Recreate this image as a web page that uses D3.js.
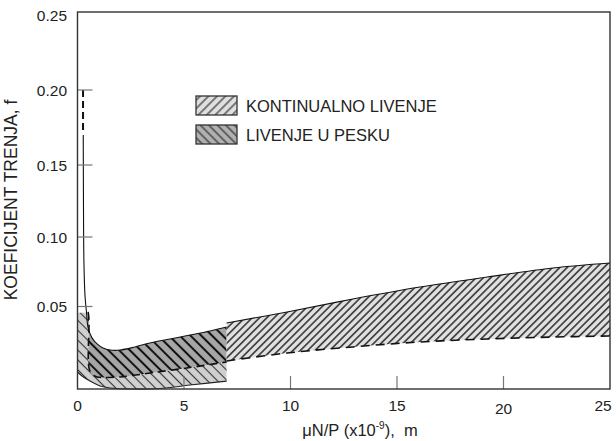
<!DOCTYPE html>
<html>
<head>
<meta charset="utf-8">
<script src="https://cdn.jsdelivr.net/npm/d3@7"></script>
<style>
  body { margin: 0; background: #fff; }
  text { font-family: "Liberation Sans", Arial, sans-serif; fill: #222; }
</style>
</head>
<body>
<div id="chart"></div>
<script>
// tick values
var xTicks = [0, 5, 10, 15, 20, 25];
var yTicks = [0.05, 0.10, 0.15, 0.20, 0.25];

// continuous casting band (x = uN/P, f)
var contUpper = [[7.0, 0.0400], [9.84, 0.0467], [12.93, 0.0554], [16.08, 0.0640], [19.23, 0.0712], [22.32, 0.0777], [25, 0.0813]];
var contLower = [[7.0, 0.0170], [9.84, 0.0218], [12.93, 0.0255], [16.08, 0.0285], [19.23, 0.0303], [22.32, 0.0315], [25, 0.0321]];

// sand casting band
var steepPart = [[0.27, 0.170], [0.28, 0.126], [0.30, 0.0835], [0.35, 0.0583], [0.42, 0.0467]];
var steepDashed = [[0.26, 0.200], [0.26, 0.171]];
var sandUpper = [[0.49, 0.0450], [0.50, 0.0370], [0.68, 0.0310], [0.92, 0.0273], [1.2, 0.0248], [1.53, 0.0236], [2.0, 0.0236], [2.7, 0.0255], [3.4, 0.0279], [4.34, 0.0303], [5.28, 0.0327], [6.22, 0.0352], [7.0, 0.0376]];
var sandLower = [[0.50, 0.0467], [0.54, 0.0418], [0.54, 0.0127], [0.68, 0.0091], [0.92, 0.0073], [1.2, 0.0070], [2.0, 0.0073], [3.4, 0.0097], [5.28, 0.0130], [7.0, 0.0164]];

// lower left region under the sand band
var leftTop = [[0, 0.046], [0.49, 0.046]];
var leftBottom = [[0, 0.0103], [0.21, 0.0079], [0.59, 0.0048], [1.06, 0.0018], [1.53, 0.0006], [2.46, 0.0], [3.87, 0.0003], [5.28, 0.0024], [7.0, 0.0048]];

var legendNames = ["KONTINUALNO LIVENJE", "LIVENJE U PESKU"];

var W = 616, H = 441;
var svg = d3.select("#chart").append("svg").attr("width", W).attr("height", H);

var plotL = 77.5, plotR = 610, plotT = 12, plotB = 389;
var x = d3.scaleLinear().domain([0, 25]).range([plotL, plotR]);
// the printed axis is not quite uniform, so calibrate at each tick
var y = d3.scaleLinear().domain([0, 0.05, 0.10, 0.15, 0.20, 0.25]).range([plotB, 306.5, 237, 165, 90, plotT]);

// hatch patterns
var defs = svg.append("defs");
function hatch(id, gap, angle, bg, lw, col) {
    var p = defs.append("pattern").attr("id", id).attr("patternUnits", "userSpaceOnUse")
        .attr("width", gap).attr("height", gap).attr("patternTransform", "rotate(" + angle + ")");
    p.append("rect").attr("width", gap).attr("height", gap).attr("fill", bg);
    p.append("line").attr("x1", gap / 2).attr("x2", gap / 2).attr("y1", 0).attr("y2", gap)
        .attr("stroke", col).attr("stroke-width", lw);
}
hatch("hCont", 5.2, 45, "#e0e0e0", 1.3, "#111");
hatch("hSand", 7.6, -45, "#a6a6a6", 2.0, "#111");
hatch("hLeft", 7.0, -45, "#d0d0d0", 1.1, "#333");
hatch("hLegCont", 6.0, 45, "#e0e0e0", 1.1, "#222");
hatch("hLegSand", 6.0, -45, "#b0b0b0", 1.1, "#222");

var line = d3.line().x(d => x(d[0])).y(d => y(d[1])).curve(d3.curveCatmullRom.alpha(0.5));
function shape(upper, lower) {
    return line(upper) + line(lower.slice().reverse()).replace(/^M/, "L") + "Z";
}

// areas
svg.append("path").attr("d", shape(leftTop.concat(sandLower.slice(1)), leftBottom)).attr("fill", "url(#hLeft)");
svg.append("path").attr("d", shape(sandUpper, sandLower)).attr("fill", "url(#hSand)");
svg.append("path").attr("d", shape(contUpper, contLower)).attr("fill", "url(#hCont)");

// outlines
svg.append("path").attr("d", line(steepPart.concat(sandUpper.slice(1)))).attr("fill", "none").attr("stroke", "#111").attr("stroke-width", 1.1);
svg.append("path").attr("d", line(steepDashed)).attr("fill", "none").attr("stroke", "#111").attr("stroke-width", 2).attr("stroke-dasharray", "7,4");
svg.append("path").attr("d", line(sandLower)).attr("fill", "none").attr("stroke", "#111").attr("stroke-width", 1.6).attr("stroke-dasharray", "8,5");
svg.append("path").attr("d", line(leftBottom)).attr("fill", "none").attr("stroke", "#222").attr("stroke-width", 1.1);
svg.append("path").attr("d", line(contUpper)).attr("fill", "none").attr("stroke", "#111").attr("stroke-width", 1.1);
svg.append("path").attr("d", line(contLower)).attr("fill", "none").attr("stroke", "#111").attr("stroke-width", 1.6).attr("stroke-dasharray", "9,6");

// ticks pointing inward
svg.append("g").selectAll("line").data(yTicks.slice(0, -1)).join("line")
    .attr("x1", plotL).attr("x2", plotL + 15).attr("y1", d => y(d)).attr("y2", d => y(d))
    .attr("stroke", "#777").attr("stroke-width", 1.2);
svg.append("g").selectAll("line").data(xTicks.slice(1, -1)).join("line")
    .attr("x1", d => x(d)).attr("x2", d => x(d)).attr("y1", plotB).attr("y2", plotB - 13)
    .attr("stroke", "#777").attr("stroke-width", 1.2);

// frame
svg.append("rect").attr("x", plotL).attr("y", plotT).attr("width", plotR - plotL).attr("height", plotB - plotT)
    .attr("fill", "none").attr("stroke", "#333").attr("stroke-width", 1.4);

// tick labels
svg.append("g").selectAll("text").data(yTicks).join("text")
    .attr("x", 67).attr("y", d => y(d) + 5.5 + (d === 0.25 ? 3 : 0)).attr("text-anchor", "end").attr("font-size", 15.5)
    .text(d => d3.format(".2f")(d));
svg.append("g").selectAll("text").data(xTicks).join("text")
    .attr("x", d => d === 25 ? x(d) - 7 : x(d)).attr("y", d => d === 20 ? 414 : 411).attr("text-anchor", "middle").attr("font-size", 15.5)
    .text(d => d);

// axis titles
var xt = svg.append("text").attr("x", 360).attr("y", 436).attr("text-anchor", "middle").attr("font-size", 16.5);
xt.append("tspan").text("\u03bcN/P (x10");
xt.append("tspan").attr("font-size", 10).attr("dy", -7).text("-9");
xt.append("tspan").attr("dy", 7).text("),\u00a0\u00a0m");
svg.append("text").attr("transform", "translate(17,200) rotate(-90)").attr("text-anchor", "middle")
    .attr("font-size", 17.5).text("KOEFICIJENT TRENJA, f");

// legend
var leg = svg.append("g").selectAll("g").data(legendNames).join("g")
    .attr("transform", (d, i) => "translate(196," + (96 + i * 29) + ")");
leg.append("rect").attr("width", 41).attr("height", 19)
    .attr("fill", (d, i) => i ? "url(#hLegSand)" : "url(#hLegCont)").attr("stroke", "#333").attr("stroke-width", 1.3);
leg.append("text").attr("x", 50).attr("y", 15.5).attr("font-size", 16.5).text(d => d);
</script>
</body>
</html>
